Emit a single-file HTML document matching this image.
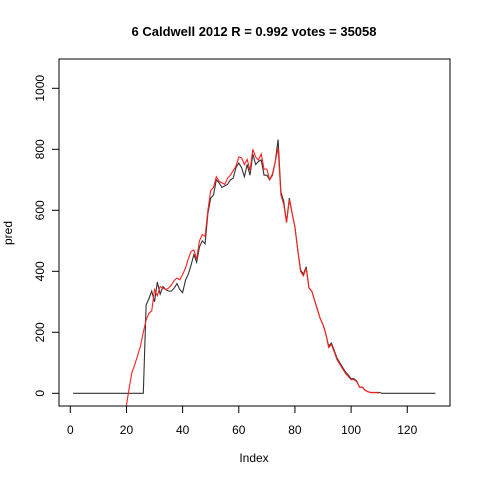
<!DOCTYPE html>
<html><head><meta charset="utf-8"><style>
body{margin:0;background:#fff}
svg{display:block;font-family:"Liberation Sans",Arial,sans-serif}
</style></head><body>
<svg id="c" width="480" height="480" viewBox="0 0 480 480">
<defs><clipPath id="clip"><rect x="59" y="59" width="391" height="347"/></clipPath></defs>
<text x="254" y="36" text-anchor="middle" font-size="13" font-weight="bold">6 Caldwell 2012 R = 0.992 votes = 35058</text>
<rect x="59" y="59" width="391" height="347" fill="none" stroke="#000" stroke-width="1"/>
<g id="xaxis"></g>
<g id="yaxis"></g>
<text x="254" y="462" text-anchor="middle" font-size="12">Index</text>
<text transform="translate(12,233) rotate(-90)" text-anchor="middle" font-size="12">pred</text>
<g clip-path="url(#clip)" id="series"></g>
</svg>
<script>
const blackVals=[0,0,0,0,0,0,0,0,0,0,0,0,0,0,0,0,0,0,0,0,0,0,0,0,0,0,
290,310,335,300,365,325,350,340,335,335,345,360,340,330,370,390,420,455,430,480,500,490,590,640,650,700,690,675,680,685,700,705,740,755,740,710,750,715,785,750,760,765,715,715,700,715,760,832,660,630,560,640,590,545,470,405,390,415,345,335,305,275,245,225,195,155,165,140,115,100,85,70,60,48,48,40,20,20,10,5,3,3,3,3,0,0,0,0,0,0,0,0,0,0,0,0,0,0,0,0,0,0,0,0];
const redStart=20;
const redVals=[-40,20,70,95,125,155,200,240,262,270,340,320,350,345,340,345,355,370,378,372,390,410,440,465,470,440,500,520,515,600,665,675,710,695,690,685,705,715,730,745,775,772,750,767,730,800,775,765,785,735,735,700,720,760,805,650,620,560,635,590,545,470,400,385,410,345,335,305,275,245,225,195,150,160,135,110,95,80,65,55,45,45,38,20,20,10,5,2,2,2,1];
const xTicks=[0,20,40,60,80,100,120];
const yTicks=[0,200,400,600,800,1000];
const X=i=>70.3+i*2.808;
const Y=v=>393.3-v*0.305;
const NS='http://www.w3.org/2000/svg';
const svg=document.getElementById('c');
function mk(t,a,p){const e=document.createElementNS(NS,t);for(const k in a)e.setAttribute(k,a[k]);p.appendChild(e);return e;}
const xa=document.getElementById('xaxis'),ya=document.getElementById('yaxis');
mk('line',{x1:X(0),x2:X(120),y1:406,y2:406,stroke:'#000'},xa);
xTicks.forEach(t=>{
 const l=mk('line',{x1:X(t),x2:X(t),y1:406,y2:413,stroke:'#000'},xa);
 
 
 const tx=mk('text',{x:X(t),y:434,'text-anchor':'middle','font-size':12},xa);tx.textContent=t;
 
 
});
mk('line',{x1:59,x2:59,y1:Y(0),y2:Y(1000),stroke:'#000'},ya);
yTicks.forEach(t=>{
 const l=mk('line',{x1:52,x2:59,y1:Y(t),y2:Y(t),stroke:'#000'},ya);
 
 
 const tx=mk('text',{transform:`translate(44,${Y(t)}) rotate(-90)`,'text-anchor':'middle','font-size':12},ya);tx.textContent=t;
 
 
});
const sg=document.getElementById('series');
const bp=mk('polyline',{points:blackVals.map((v,i)=>X(i+1)+','+Y(v)).join(' '),fill:'none',stroke:'#333','stroke-width':1.1},sg);


const rp=mk('polyline',{points:redVals.map((v,i)=>X(i+redStart)+','+Y(v)).join(' '),fill:'none',stroke:'#ff2020','stroke-width':1.1},sg);


</script>
</body></html>
